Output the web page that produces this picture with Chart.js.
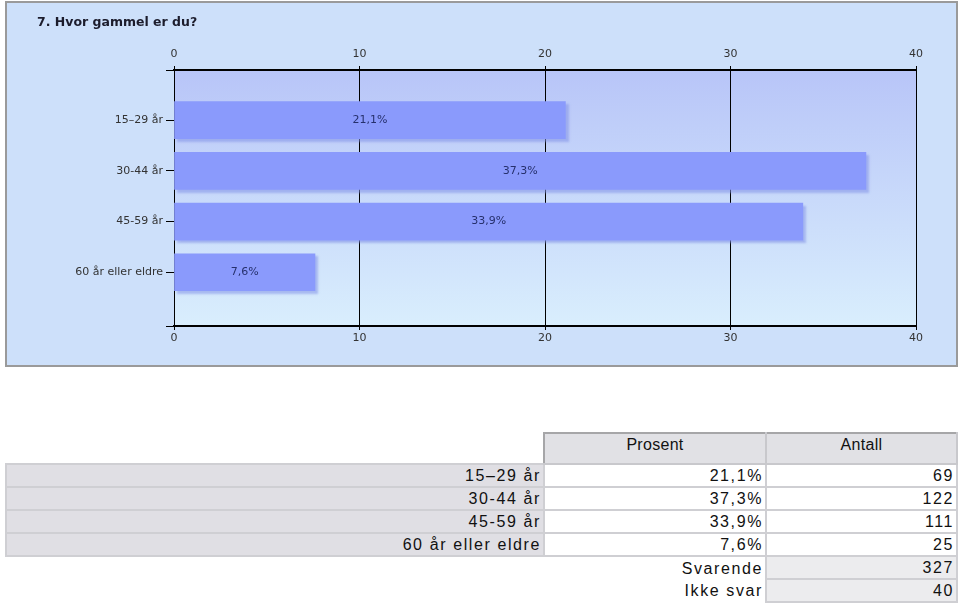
<!DOCTYPE html>
<html>
<head>
<meta charset="utf-8">
<script src="https://cdn.jsdelivr.net/npm/chart.js@4.4.1/dist/chart.umd.min.js"></script>
<style>
  body { margin: 0; background: #fff; width: 960px; height: 603px; overflow: hidden; position: relative; }
  #panel { position: absolute; left: 5px; top: 1px; width: 949px; height: 362px; border: 2px solid #9a9a9a; background: #cde0fa; }
  #tbl { position: absolute; left: 5px; top: 432px; width: 951px; border-collapse: collapse; table-layout: fixed;
         font-family: "Liberation Sans", Arial, sans-serif; font-size: 16px; color: #111; }
  #tbl td { height: 21px; line-height: 21px; padding: 0 2px; text-align: right; letter-spacing: 1.6px;
            border: 2px solid #cfcfd3; white-space: nowrap; }
  #tbl td.lab { background: #e0dfe4; }
  #tbl td.val { background: #fff; }
  #tbl td.tot { background: #ececee; }
  #tbl td.blank { border: none; background: transparent; }
  #tbl th { height: 27px; padding: 2px 0 0 0; vertical-align: top; font-weight: normal; background: #e1e1e5;
            border: 2px solid #a6a6a8; border-right-color: #c8c8cc; border-bottom-color: #c8c8cc; letter-spacing: 0.3px; }
  #tbl th.blank { background: transparent; border: none; }
</style>
</head>
<body>
<div id="panel"><canvas id="myChart"></canvas></div>
<table id="tbl">
  <colgroup><col style="width:538px"><col style="width:222px"><col style="width:191px"></colgroup>
  <thead><tr><th class="blank"></th><th>Prosent</th><th>Antall</th></tr></thead>
  <tbody id="tbody"></tbody>
</table>
<script>
const title = '7. Hvor gammel er du?';
const categories = ['15–29 år', '30-44 år', '45-59 år', '60 år eller eldre'];
const percent = [21.1, 37.3, 33.9, 7.6];
const counts = [69, 122, 111, 25];
const xTicks = [0, 10, 20, 30, 40];
const answered = 327;
const notAnswered = 40;

const fmt = v => v.toFixed(1).replace('.', ',') + '%';

// table below the chart
const tbody = document.getElementById('tbody');
categories.forEach((c, i) => {
  const tr = document.createElement('tr');
  tr.innerHTML = '<td class="lab">' + c + '</td><td class="val">' + fmt(percent[i]) + '</td><td class="val">' + counts[i] + '</td>';
  tbody.appendChild(tr);
});
[['Svarende', answered], ['Ikke svar', notAnswered]].forEach(r => {
  const tr = document.createElement('tr');
  tr.innerHTML = '<td class="blank" colspan="2">' + r[0] + '</td><td class="tot">' + r[1] + '</td>';
  tbody.appendChild(tr);
});

const tickFont = { family: 'DejaVu Sans', size: 11 };

const panelPlugin = {
  id: 'panel',
  beforeDraw(chart) {
    const { ctx, chartArea: a } = chart;
    const g = ctx.createLinearGradient(0, a.top, 0, a.bottom);
    g.addColorStop(0, '#b8c5f8');
    g.addColorStop(1, '#d9eefd');
    ctx.save();
    ctx.fillStyle = g;
    ctx.fillRect(a.left, a.top, a.right - a.left, a.bottom - a.top);
    ctx.restore();
  },
  beforeDatasetsDraw(chart) {
    const ctx = chart.ctx;
    ctx.save();
    ctx.shadowColor = 'rgba(130,145,230,0.55)';
    ctx.shadowOffsetX = 3;
    ctx.shadowOffsetY = 3;
    ctx.shadowBlur = 2;
  },
  afterDatasetsDraw(chart) {
    const ctx = chart.ctx;
    ctx.restore();
    ctx.save();
    ctx.font = '11px "DejaVu Sans"';
    ctx.fillStyle = '#26306c';
    ctx.textAlign = 'center';
    ctx.textBaseline = 'middle';
    chart.getDatasetMeta(0).data.forEach((bar, i) => {
      ctx.fillText(fmt(percent[i]), (bar.x + bar.base) / 2, bar.y);
    });
    ctx.restore();
  },
  afterDraw(chart) {
    const ctx = chart.ctx;
    ctx.save();
    ctx.font = 'bold 12.5px "DejaVu Sans"';
    ctx.fillStyle = '#1c1c2c';
    ctx.textBaseline = 'alphabetic';
    ctx.fillText(title, 30, 23);
    ctx.restore();
  }
};

new Chart('myChart', {
  type: 'bar',
  data: {
    datasets: [{
      data: percent.map((v, i) => ({ x: v, y: i })),
      backgroundColor: '#8a9afc',
      borderWidth: 0,
      barThickness: 37,
      xAxisID: 'x',
      yAxisID: 'y'
    }]
  },
  options: {
    indexAxis: 'y',
    responsive: true,
    maintainAspectRatio: false,
    animation: false,
    layout: { padding: { left: 0, right: 40, top: 0, bottom: 0 } },
    scales: {
      y: {
        type: 'linear',
        reverse: true,
        offset: false,
        bounds: 'data',
        min: -0.99,
        max: 4.06,
        afterBuildTicks: s => { s.ticks = [4.06, 3, 2, 1, 0, -0.99].map(v => ({ value: v })); },
        afterFit: s => { s.width = 167; },
        ticks: {
          font: tickFont, color: '#333', padding: 3,
          callback: v => (Number.isInteger(v) && categories[v] !== undefined) ? categories[v] : ''
        },
        grid: { offset: false, drawOnChartArea: false, color: '#000', tickLength: 8 },
        border: { color: '#000', width: 1 }
      },
      x: {
        type: 'linear',
        position: 'bottom',
        min: 0,
        max: 40,
        afterBuildTicks: s => { s.ticks = xTicks.map(v => ({ value: v })); },
        afterFit: s => { s.height = 39; },
        ticks: { font: tickFont, color: '#333', padding: 2 },
        grid: { color: '#000', tickLength: 4 },
        border: { color: '#000', width: 2 }
      },
      x2: {
        type: 'linear',
        axis: 'x',
        position: 'top',
        min: 0,
        max: 40,
        afterBuildTicks: s => { s.ticks = xTicks.map(v => ({ value: v })); },
        afterFit: s => { s.height = 67; },
        ticks: { font: tickFont, color: '#333', padding: 5 },
        grid: { drawOnChartArea: false, color: '#000', tickLength: 4 },
        border: { color: '#000', width: 2 }
      }
    },
    plugins: {
      legend: { display: false },
      tooltip: { enabled: false }
    }
  },
  plugins: [panelPlugin]
});
</script>
</body>
</html>
